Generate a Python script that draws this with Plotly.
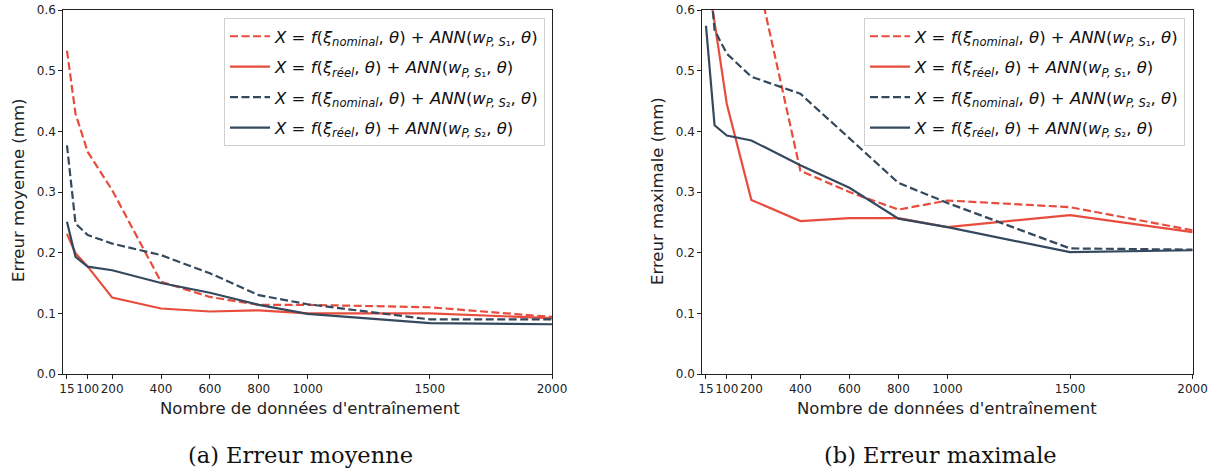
import plotly.graph_objects as go

W, H = 1215, 473

n_train = [15, 50, 100, 200, 400, 600, 800, 1000, 1500, 2000]
x_ticks = [15, 100, 200, 400, 600, 800, 1000, 1500, 2000]
y_ticks = [0.0, 0.1, 0.2, 0.3, 0.4, 0.5, 0.6]

# (a) mean error
mean_nom_s1 = [0.533, 0.429, 0.366, 0.303, 0.152, 0.127, 0.114, 0.114, 0.110, 0.094]
mean_reel_s1 = [0.231, 0.199, 0.177, 0.126, 0.108, 0.103, 0.105, 0.100, 0.100, 0.092]
mean_nom_s2 = [0.377, 0.248, 0.229, 0.215, 0.196, 0.166, 0.130, 0.115, 0.090, 0.090]
mean_reel_s2 = [0.251, 0.193, 0.177, 0.171, 0.150, 0.134, 0.114, 0.099, 0.084, 0.082]

# (b) max error
max_nom_s1 = [1.30, 1.10, 0.90, 0.70, 0.335, 0.300, 0.271, 0.286, 0.275, 0.237]
max_reel_s1 = [0.667, 0.580, 0.445, 0.287, 0.252, 0.257, 0.257, 0.242, 0.262, 0.234]
max_nom_s2 = [0.73, 0.567, 0.528, 0.490, 0.462, 0.388, 0.315, 0.282, 0.207, 0.205]
max_reel_s2 = [0.574, 0.410, 0.393, 0.385, 0.344, 0.307, 0.256, 0.242, 0.201, 0.204]

RED = "#E74C3C"
DARK = "#34495E"
DASH = "8px,3.5px"


def px(x):
    return x / W


def py(y):
    return 1 - y / H


def lab(xi, s):
    return (f"<i>X</i> = <i>f</i>(<i>ξ</i><sub><i>{xi}</i></sub>, <i>θ</i>) + "
            f"<i>ANN</i>(<i>w</i><sub><i>P, S</i>{s}</sub>, <i>θ</i>)")


names = [lab("nominal", "₁"), lab("réel", "₁"), lab("nominal", "₂"), lab("réel", "₂")]
styles = [(RED, DASH), (RED, "solid"), (DARK, DASH), (DARK, "solid")]

fig = go.Figure()
for panel, (series, xa, ya, lg) in enumerate([
        ([mean_nom_s1, mean_reel_s1, mean_nom_s2, mean_reel_s2], "x", "y", "legend"),
        ([max_nom_s1, max_reel_s1, max_nom_s2, max_reel_s2], "x2", "y2", "legend2")]):
    for k, (vals, nm, (col, dash)) in enumerate(zip(series, names, styles)):
        fig.add_trace(go.Scatter(x=n_train, y=vals, mode="lines", name=nm,
                                 line=dict(color=col, width=2.2, dash=dash),
                                 legendgroup=f"p{panel}g{k}",
                                 xaxis=xa, yaxis=ya, legend=lg))

ydom = [py(374), py(10)]
axcommon = dict(showline=True, mirror=True, linecolor="#222", linewidth=1,
                ticks="outside", ticklen=4, tickcolor="#222", showgrid=False,
                zeroline=False, automargin=False, tickangle=0,
                tickfont=dict(family="DejaVu Sans", size=12, color="#222"))
legcommon = dict(xanchor="right", yanchor="top", bgcolor="white",
                 bordercolor="#d0d0d0", borderwidth=1, tracegroupgap=6,
                 itemwidth=40,
                 font=dict(family="DejaVu Sans", size=16.5, color="#111"))
fig.update_layout(
    width=W, height=H, margin=dict(l=0, r=0, t=0, b=0),
    plot_bgcolor="white", paper_bgcolor="white",
    xaxis=dict(domain=[px(63.3), px(552)], range=[0, 2000], tickvals=x_ticks, anchor="y", **axcommon),
    yaxis=dict(domain=ydom, range=[0, 0.6], tickvals=y_ticks, tickformat=".1f", anchor="x", **axcommon),
    xaxis2=dict(domain=[px(702.3), px(1192.6)], range=[0, 2000], tickvals=x_ticks, anchor="y2", **axcommon),
    yaxis2=dict(domain=ydom, range=[0, 0.6], tickvals=y_ticks, tickformat=".1f", anchor="x2", **axcommon),
    legend=dict(x=px(545), y=py(18), **legcommon),
    legend2=dict(x=px(1185), y=py(18), **legcommon),
    showlegend=True,
)

tfont = dict(family="DejaVu Sans", size=16.5, color="#222")
cfont = dict(family="DejaVu Serif", size=22.5, color="#111")
ann = [
    dict(text="Erreur moyenne (mm)", x=px(18), y=py(191), textangle=-90, font=tfont),
    dict(text="Erreur maximale (mm)", x=px(657), y=py(191), textangle=-90, font=tfont),
    dict(text="Nombre de données d'entraînement", x=px(310), y=py(408), font=tfont),
    dict(text="Nombre de données d'entraînement", x=px(947), y=py(408), font=tfont),
    dict(text="(a) Erreur moyenne", x=px(300), y=py(455), font=cfont),
    dict(text="(b) Erreur maximale", x=px(940), y=py(455), font=cfont),
]
for a in ann:
    fig.add_annotation(xref="paper", yref="paper", showarrow=False,
                       xanchor="center", yanchor="middle", **a)

fig.write_html(
    "out.html",
    config={"displayModeBar": False},
    post_script="document.body.style.margin='0';document.body.style.overflow='hidden';",
)
